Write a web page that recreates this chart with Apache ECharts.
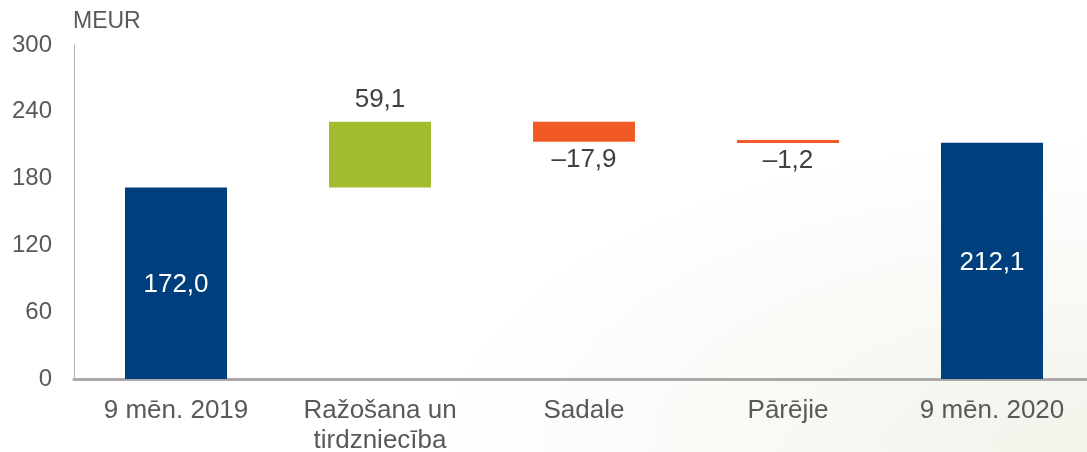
<!DOCTYPE html>
<html>
<head>
<meta charset="utf-8">
<script src="https://cdn.jsdelivr.net/npm/echarts@6/dist/echarts.min.js"></script>
<style>
  html, body { margin: 0; padding: 0; background: #ffffff; }
  #chart {
    width: 1087px; height: 452px;
    background: radial-gradient(ellipse 60% 70% at 100% 100%, #f0f4ea 0%, #f7f9f4 45%, #ffffff 100%);
  }
</style>
</head>
<body>
<div id="chart"></div>
<script>
var categories = ['9 mēn. 2019', 'Ražošana un\ntirdzniecība', 'Sadale', 'Pārējie', '9 mēn. 2020'];
var changes = [172.0, 59.1, -17.9, -1.2, 212.1];
var isTotal = [true, false, false, false, true];
var colors = ['#003f7d', '#a3bd31', '#f15a24', '#f15a24', '#003f7d'];
var yTicks = [0, 60, 120, 180, 240, 300];

function fmt(v) {
    var s = Math.abs(v).toFixed(1).replace('.', ',');
    return v < 0 ? '\u2013' + s : s;
}

// waterfall: invisible base + visible part
var running = 0;
var baseData = [], barData = [];
changes.forEach(function (v, i) {
    if (isTotal[i]) {
        baseData.push(0);
        barData.push(v);
        running = v;
    } else {
        var from = running, to = running + v;
        baseData.push(Math.min(from, to));
        barData.push(Math.abs(v));
        running = to;
    }
});

var chart = echarts.init(document.getElementById('chart'));
chart.setOption({
    animation: false,
    textStyle: { fontFamily: 'Liberation Sans, Arial, sans-serif' },
    grid: { left: 74, top: 45, width: 1020, height: 334, containLabel: false, outerBoundsMode: 'none' },
    xAxis: {
        type: 'category',
        data: categories,
        axisLine: { show: true, lineStyle: { color: '#aca8a8', width: 3 } },
        axisTick: { show: false },
        axisLabel: { fontSize: 26, color: '#595959', margin: 17, lineHeight: 30 }
    },
    yAxis: {
        type: 'value',
        min: yTicks[0],
        max: yTicks[yTicks.length - 1],
        interval: 60,
        name: 'MEUR',
        nameGap: 12,
        nameTextStyle: { fontSize: 23, color: '#595959', align: 'left', padding: [0, 0, 0, -1] },
        splitLine: { show: false },
        axisLine: { show: true, lineStyle: { color: '#b8b4b4', width: 1 } },
        axisTick: { show: false },
        axisLabel: { fontSize: 24, color: '#595959', margin: 22 }
    },
    series: [
        {
            type: 'bar',
            stack: 'w',
            barWidth: '50%',
            itemStyle: { color: 'transparent' },
            data: baseData,
            silent: true
        },
        {
            type: 'bar',
            stack: 'w',
            barWidth: '50%',
            barMinHeight: 3,
            data: barData.map(function (v, i) {
                var lbl;
                if (isTotal[i]) {
                    lbl = { show: true, position: 'inside', color: '#ffffff', fontSize: 26, offset: [0, 2] };
                } else if (changes[i] > 0) {
                    lbl = { show: true, position: 'top', color: '#404040', fontSize: 26, distance: 9 };
                } else {
                    lbl = { show: true, position: 'bottom', color: '#404040', fontSize: 26, distance: 5 };
                }
                lbl.formatter = function () { return fmt(changes[i]); };
                return { value: v, itemStyle: { color: colors[i] }, label: lbl };
            })
        }
    ]
});
</script>
</body>
</html>
